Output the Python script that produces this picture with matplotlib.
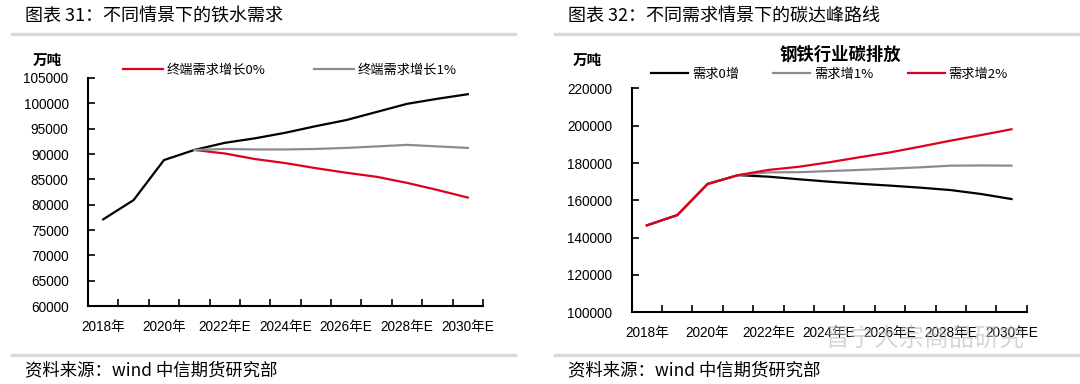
import numpy as np
import matplotlib
matplotlib.use("Agg")
import matplotlib.pyplot as plt
from matplotlib.lines import Line2D

plt.rcParams['font.family'] = ['Liberation Sans', 'Noto Sans CJK SC', 'DejaVu Sans']
CJK = ['Noto Sans CJK SC', 'DejaVu Sans']

# ---- data ----
years = ['2018年', '2019年', '2020年', '2021年', '2022年E', '2023年E', '2024年E',
         '2025年E', '2026年E', '2027年E', '2028年E', '2029年E', '2030年E']

# chart 31: hot metal demand (万吨)
iron_black = [77100, 80900, 88800, 90800, 92200, 93100, 94200, 95500, 96700,
              98300, 99900, 100900, 101800]
iron_red = [None, None, None, 90800, 90100, 89000, 88200, 87200, 86300,
            85500, 84300, 82900, 81400]
iron_gray = [None, None, None, 90800, 91000, 90900, 90900, 91000, 91200,
             91500, 91800, 91500, 91200]

# chart 32: steel industry carbon emission (万吨)
carbon_0 = [146600, 152100, 168800, 173500, 172700, 171300, 170000, 168900,
            167900, 166800, 165500, 163400, 160700]
carbon_1 = [146600, 152100, 168800, 173500, 175000, 175100, 175700, 176300,
            177000, 177700, 178600, 178700, 178600]
carbon_2 = [146600, 152100, 168800, 173500, 176300, 178000, 180400, 183100,
            185700, 188800, 192000, 195000, 198100]

RED = '#e0001b'
GRAY = '#8c8c8c'
BLACK = '#000000'


def to_arr(vals):
    return np.array([np.nan if v is None else v for v in vals], dtype=float)


def style_axes(ax, ylim, ystep):
    n = len(years)
    x = np.arange(n)
    ax.set_xlim(-0.5, n - 0.5)
    ax.set_ylim(*ylim)
    ax.set_yticks(np.arange(ylim[0], ylim[1] + 1, ystep))
    ax.set_xticks(np.arange(n + 1) - 0.5)
    ax.set_xticklabels([])
    ax.set_xticks(x[::2], minor=True)
    ax.set_xticklabels(years[::2], minor=True)
    ax.tick_params(axis='x', which='major', direction='in', length=5, width=1.2)
    ax.tick_params(axis='x', which='minor', length=0, pad=10, labelsize=9.8)
    ax.tick_params(axis='y', direction='in', length=5, width=1.2, pad=14,
                   labelsize=9.8)
    for s in ['top', 'right']:
        ax.spines[s].set_visible(False)
    for s in ['left', 'bottom']:
        ax.spines[s].set_linewidth(1.5)
    return x


fig = plt.figure(figsize=(10.8, 3.84), dpi=100)

# ---------- left chart ----------
ax1 = fig.add_axes([88 / 1080, 1 - 306 / 384, 395 / 1080, 228 / 384])
x = style_axes(ax1, (60000, 105000), 5000)
ax1.plot(x, to_arr(iron_black), color=BLACK, lw=1.6)
l_red, = ax1.plot(x, to_arr(iron_red), color=RED, lw=1.6)
l_gray, = ax1.plot(x, to_arr(iron_gray), color=GRAY, lw=1.6)
ax1.legend([l_red, l_gray], ['终端需求增长0%', '终端需求增长1%'], ncol=2,
           loc='center left', bbox_to_anchor=(0.089, 1.035), frameon=False,
           borderpad=0, borderaxespad=0, handlelength=3.0, handletextpad=0.3,
           columnspacing=3.7, prop={'family': CJK, 'size': 9.5})
fig.text(33 / 1080, 1 - 60 / 384, '万吨', family=CJK, fontsize=10.5,
         fontweight='bold', va='center')

# ---------- right chart ----------
ax2 = fig.add_axes([631.7 / 1080, 1 - 312.3 / 384, 395 / 1080, 223.9 / 384])
x = style_axes(ax2, (100000, 220000), 20000)
h0, = ax2.plot(x, to_arr(carbon_0), color=BLACK, lw=1.6)
h1, = ax2.plot(x, to_arr(carbon_1), color=GRAY, lw=1.6)
h2, = ax2.plot(x, to_arr(carbon_2), color=RED, lw=1.6)
ax2.legend([h0, h1, h2], ['需求0增', '需求增1%', '需求增2%'], ncol=3,
           loc='center left', bbox_to_anchor=(0.049, 1.064), frameon=False,
           borderpad=0, borderaxespad=0, handlelength=2.8, handletextpad=0.3,
           columnspacing=2.6, prop={'family': CJK, 'size': 9.5})
fig.text(840 / 1080, 1 - 55 / 384, '钢铁行业碳排放', family=CJK, fontsize=12.5,
         fontweight='bold', ha='center', va='center')
fig.text(573 / 1080, 1 - 60 / 384, '万吨', family=CJK, fontsize=10.5,
         fontweight='bold', va='center')

# ---------- headers / footers ----------
for x0, x1, title in [(12, 515, '图表 31：不同情景下的铁水需求'),
                      (555, 1078, '图表 32：不同需求情景下的碳达峰路线')]:
    fig.text((x0 + 13) / 1080, 1 - 17 / 384, title, family=CJK, fontsize=13,
             va='center')
    fig.add_artist(Line2D([x0 / 1080, x1 / 1080], [1 - 34 / 384] * 2,
                          color='#d9d9d9', lw=2.5))
    fig.add_artist(Line2D([x0 / 1080, x1 / 1080], [1 - 355 / 384] * 2,
                          color='#d9d9d9', lw=2.5))
    fig.text((x0 + 13) / 1080, 1 - 370 / 384, '资料来源：wind 中信期货研究部',
             family=CJK, fontsize=12.5, va='center')

# watermark
fig.text(825 / 1080, 1 - 340 / 384, '晋宁大宗商品研究', family=CJK, fontsize=18,
         color='#bbbbbb', alpha=0.6, va='center')

fig.savefig('out.png', dpi=100)
